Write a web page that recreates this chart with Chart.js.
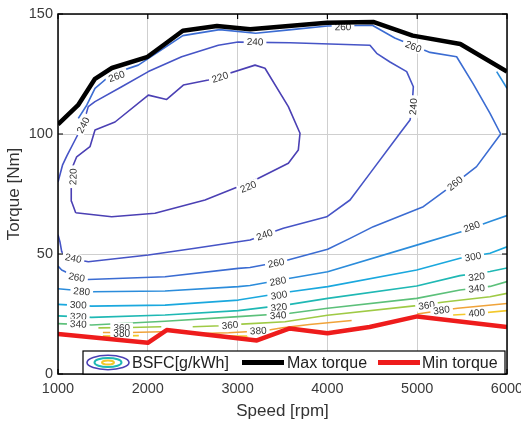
<!DOCTYPE html>
<html lang="en">
<head>
<meta charset="UTF-8">
<title>BSFC map</title>
<script src="https://cdn.jsdelivr.net/npm/chart.js@4.4.0/dist/chart.umd.min.js"></script>
<style>
  body { margin:0; background:#fff; }
  canvas { display:block; }
</style>
</head>
<body>
<canvas id="myChart" width="521" height="425"></canvas>
<script>
// axis ticks
const speedTicks = [1000, 2000, 3000, 4000, 5000, 6000];
const torqueTicks = [0, 50, 100, 150];

// full load / min load curves  [rpm, Nm]
const maxTorque = [[1000,104],[1223,112],[1412,123],[1600,127.5],[1990,132],[2210,138],[2390,143],[2770,145],[3140,143.6],[3995,146.4],[4510,146.7],[4950,141],[5480,137.5],[6000,126]];
const minTorque = [[1000,16.7],[2000,13],[2210,18.3],[3215,14],[3580,19],[4000,17],[4470,19.6],[5000,24],[6000,19.6]];

// BSFC iso-lines [rpm, Nm]
const bsfc220 = [[1197,67.2],[1150,72],[1145,76.7],[1150,85],[1208,90.5],[1356,94.7],[1412,101.7],[1635,105],[2006,116.2],[2210,114.4],[2396,120.4],[2674,122.5],[3194,128.7],[3305,127.4],[3565,111.4],[3695,100.3],[3676,93.3],[3565,87.8],[3194,80.8],[2637,72.5],[2080,67],[1598,65.5],[1197,67.2]];
const bsfc240 = [[1000,80],[1050,87],[1100,91],[1190,97.5],[1280,104],[1337,111.4],[1412,113.5],[1709,119.7],[2006,126],[2377,132.2],[2785,137],[3004,138.3],[3584,138],[4474,137],[4549,133.6],[4697,130],[4883,126],[4957,119.7],[4940,110],[4920,105.8],[4808,100.3],[4474,83.6],[4252,72.5],[3992,65.5],[3509,60.7],[3138,55.8],[3008,55.1],[2526,52.4],[2006,49.6],[1337,46.8],[1100,48.5],[1041,51],[1022,55],[1000,58]];
const bsfc260 = [[1226,106.5],[1320,112],[1412,119],[1600,125],[1894,128.7],[2210,136.5],[2390,141],[2800,143.5],[3200,142],[3600,143.5],[4000,145],[4500,145.3],[4750,140],[5143,134],[5439,132.2],[5622,121],[5811,108.6],[5930,100],[5661,86.4],[5421,79.4],[5068,69.7],[4511,61.4],[4252,56.5],[4003,52],[3509,47],[3138,44.4],[3008,44],[2192,40.5],[1337,39.4],[1208,40.3],[1041,43.3],[1000,45]];
const bsfc280a = [[1000,35.5],[1375,34.3],[2192,34.6],[3008,36.4],[3138,36.9],[3584,39.9],[4003,42.6],[4994,53.7],[5510,59.5],[5811,63.5],[6000,66]];
const bsfc280b = [[5885,126],[6000,119]];
const bsfc300 = [[1000,29],[1375,28.3],[2192,28.7],[3008,30.8],[3584,34.3],[4003,36.4],[4994,43.3],[5477,48.2],[5811,50.3],[6000,53]];
const bsfc320 = [[1000,24.2],[1375,23.6],[2192,24.6],[3008,26.4],[3584,29],[4003,31.5],[4994,36.7],[5477,41],[5811,42.7],[6000,44.2]];
const bsfc340 = [[1000,21],[1375,20.4],[2192,22],[3008,23.9],[3584,25.3],[4003,27.4],[4994,31.5],[5477,35],[5811,36.5],[6000,38.5]];
const bsfc360a = [[1450,19.2],[1800,19.4],[2150,19.7]];
const bsfc360b = [[2500,19.7],[2823,20.1],[3046,20.8],[3528,21.8],[4000,24.5],[4994,28.5],[5300,30],[5811,32.2],[6000,33.6]];
const bsfc380a = [[1500,17.3],[1800,17.3],[2150,17.6]];
const bsfc380b = [[2500,16.8],[2900,17.2],[3300,18],[3500,19.3],[3800,20.6],[4270,22.3]];
const bsfc380c = [[5000,25],[5300,26.7],[5450,27.4],[6000,29.4]];
const bsfc400a = [[1500,15.8],[1900,16]];
const bsfc400b = [[2900,15.8],[3120,15.8]];
const bsfc400c = [[5400,24.6],[5600,25],[6000,26.4]];

// contour labels [level, rpm, Nm]
const contourLabels = [
  [220,2804,123.6],[220,3119,78],[220,1170,82.2],
  [240,1282,103.7],[240,3194,138.4],[240,4957,111.4],[240,3300,58],[240,1170,48.2],
  [260,1653,124],[260,4174,144.6],[260,4957,136.4],[260,5421,79.4],[260,3430,46.2],[260,1208,40.3],
  [280,1264,34.4],[280,3450,38.6],[280,5607,61.4],
  [300,1226,28.8],[300,3460,32.8],[300,5621,48.8],
  [320,1226,23.9],[320,3460,27.8],[320,5662,40.5],
  [340,1226,20.8],[340,3450,24.4],[340,5662,35.6],
  [360,1709,19.3],[360,2915,20.3],[360,5105,28.6],
  [380,1709,16.6],[380,3230,18],[380,5272,26.6],
  [400,5662,25.4]
];

const levelColors = {220:'#4b40b4',240:'#4654c6',260:'#3b6cd2',280:'#2b8cdb',300:'#1aa8de',320:'#1fb8b4',340:'#5cc07a',360:'#9fca45',380:'#f0a33a',400:'#f3c82a'};

const contours = [
  [220,bsfc220],[240,bsfc240],[260,bsfc260],[280,bsfc280a],[280,bsfc280b],
  [300,bsfc300],[320,bsfc320],[340,bsfc340],[360,bsfc360a],[360,bsfc360b],
  [380,bsfc380a],[380,bsfc380b],[380,bsfc380c],[400,bsfc400a],[400,bsfc400b],[400,bsfc400c]
];

const toXY = arr => arr.map(p => ({x: p[0], y: p[1]}));
const FONT = "'Liberation Sans', Arial, sans-serif";

let datasets = [
  {label:'Max torque', data: toXY(maxTorque), borderColor:'#000', borderWidth:4.5},
  {label:'Min torque', data: toXY(minTorque), borderColor:'#ee1c1c', borderWidth:4.5}
];
contours.forEach(c => {
  datasets.push({label:'BSFC ' + c[0], level:c[0], data: toXY(c[1]), borderColor: levelColors[c[0]], borderWidth:1.6});
});

// contour labels, drawn after the iso-lines but under the torque lines
const labelPlugin = {
  id: 'contourLabels',
  afterDatasetDraw(chart, args) {
    if (args.index !== 2) return;
    const ctx = chart.ctx, xs = chart.scales.x, ys = chart.scales.y;
    ctx.save();
    ctx.font = '10px ' + FONT;
    ctx.textAlign = 'center';
    ctx.textBaseline = 'middle';
    contourLabels.forEach(l => {
      const px = xs.getPixelForValue(l[1]), py = ys.getPixelForValue(l[2]);
      let best = 1e9, ang = 0;
      chart.data.datasets.forEach(ds => {
        if (ds.level !== l[0]) return;
        for (let i = 0; i < ds.data.length - 1; i++) {
          const ax = xs.getPixelForValue(ds.data[i].x), ay = ys.getPixelForValue(ds.data[i].y);
          const bx = xs.getPixelForValue(ds.data[i+1].x), by = ys.getPixelForValue(ds.data[i+1].y);
          const dx = bx - ax, dy = by - ay, len2 = dx*dx + dy*dy || 1;
          let t = ((px-ax)*dx + (py-ay)*dy) / len2;
          t = Math.max(0, Math.min(1, t));
          const qx = ax + t*dx - px, qy = ay + t*dy - py;
          const d = qx*qx + qy*qy;
          if (d < best) { best = d; ang = Math.atan2(dy, dx); }
        }
      });
      if (ang > Math.PI/2) ang -= Math.PI;
      if (ang < -Math.PI/2) ang += Math.PI;
      const txt = String(l[0]);
      const w = ctx.measureText(txt).width;
      ctx.save();
      ctx.translate(px, py);
      ctx.rotate(ang);
      ctx.fillStyle = '#fff';
      ctx.fillRect(-w/2 - 3, -5, w + 6, 10);
      ctx.fillStyle = '#333';
      ctx.fillText(txt, 0, 0.5);
      ctx.restore();
    });
    ctx.restore();
  }
};

// axes box, inner ticks and the legend box at the bottom
const framePlugin = {
  id: 'frame',
  afterDraw(chart) {
    const ctx = chart.ctx, a = chart.chartArea, xs = chart.scales.x, ys = chart.scales.y;
    ctx.save();
    ctx.strokeStyle = '#000';
    ctx.lineWidth = 1.5;
    ctx.strokeRect(a.left, a.top, a.right - a.left, a.bottom - a.top);
    ctx.lineWidth = 1.2;
    ctx.beginPath();
    speedTicks.forEach(v => {
      const x = xs.getPixelForValue(v);
      ctx.moveTo(x, a.bottom); ctx.lineTo(x, a.bottom - 5);
      ctx.moveTo(x, a.top); ctx.lineTo(x, a.top + 5);
    });
    torqueTicks.forEach(v => {
      const y = ys.getPixelForValue(v);
      ctx.moveTo(a.left, y); ctx.lineTo(a.left + 5, y);
      ctx.moveTo(a.right, y); ctx.lineTo(a.right - 5, y);
    });
    ctx.stroke();

    // legend
    const lx = 83, ly = 351, lw = a.right - 2 - lx, lh = a.bottom - ly;
    ctx.fillStyle = '#fff';
    ctx.fillRect(lx, ly, lw, lh);
    ctx.strokeStyle = '#000';
    ctx.lineWidth = 1.2;
    ctx.strokeRect(lx, ly, lw, lh);
    const cy = ly + lh/2;
    const ell = (rx, ry, col, lwid) => {
      ctx.beginPath();
      ctx.ellipse(108, cy, rx, ry, 0, 0, Math.PI*2);
      ctx.strokeStyle = col; ctx.lineWidth = lwid; ctx.stroke();
    };
    ell(21, 7.2, levelColors[220], 1.6);
    ell(13.5, 4.5, levelColors[320], 2);
    ell(6, 2, levelColors[400], 2);
    ctx.font = '16px ' + FONT;
    ctx.fillStyle = '#222';
    ctx.textBaseline = 'middle';
    ctx.textAlign = 'left';
    ctx.fillText('BSFC[g/kWh]', 132, cy + 1);
    ctx.lineWidth = 5;
    ctx.strokeStyle = '#000';
    ctx.beginPath(); ctx.moveTo(242, cy); ctx.lineTo(284, cy); ctx.stroke();
    ctx.fillText('Max torque', 287, cy + 1);
    ctx.strokeStyle = '#ee1c1c';
    ctx.beginPath(); ctx.moveTo(378, cy); ctx.lineTo(420, cy); ctx.stroke();
    ctx.fillText('Min torque', 422, cy + 1);
    ctx.restore();
  }
};

const ctx = document.getElementById('myChart').getContext('2d');
const myChart = new Chart(ctx, {
  type: 'line',
  data: { datasets: datasets },
  options: {
    responsive: false,
    animation: false,
    devicePixelRatio: 1,
    layout: { padding: { top: 14, right: 14, left: 0, bottom: 0 } },
    elements: { point: { radius: 0 }, line: { tension: 0, borderCapStyle: 'butt', borderJoinStyle: 'round' } },
    plugins: { legend: { display: false }, tooltip: { enabled: false } },
    scales: {
      x: {
        type: 'linear', min: 1000, max: 6000,
        afterBuildTicks: s => { s.ticks = speedTicks.map(v => ({value: v})); },
        afterFit: s => { s.height = 51; s.paddingLeft = 0; s.paddingRight = 0; },
        ticks: { color: '#3a3a3a', font: { family: FONT, size: 14.5 }, padding: 6, maxRotation: 0, callback: v => String(v) },
        grid: { color: '#cfcfcf', lineWidth: 1, drawTicks: false },
        border: { display: false },
        title: { display: true, text: 'Speed [rpm]', color: '#333', font: { family: FONT, size: 17 }, padding: { top: 2, bottom: 3 } }
      },
      y: {
        type: 'linear', min: 0, max: 150,
        afterBuildTicks: s => { s.ticks = torqueTicks.map(v => ({value: v})); },
        afterFit: s => { s.width = 58; s.paddingTop = 0; s.paddingBottom = 0; },
        ticks: { color: '#3a3a3a', font: { family: FONT, size: 14.5 }, padding: 5 },
        grid: { color: '#cfcfcf', lineWidth: 1, drawTicks: false },
        border: { display: false },
        title: { display: true, text: 'Torque [Nm]', color: '#333', font: { family: FONT, size: 17 }, padding: { top: 4, bottom: 2 } }
      }
    }
  },
  plugins: [labelPlugin, framePlugin]
});
</script>
</body>
</html>
